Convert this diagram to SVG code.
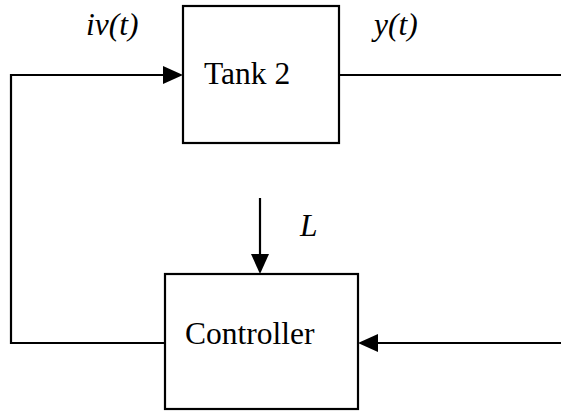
<svg xmlns="http://www.w3.org/2000/svg" width="561" height="412" viewBox="0 0 561 412">
<style>
.box{fill:#fff;stroke:#000;stroke-width:2.2}
.ln{fill:none;stroke:#000;stroke-width:2.2}
.ah{fill:#000;stroke:none}
.t{font-family:'Liberation Serif','Times New Roman',serif;font-size:31.5px;fill:#000}
.i{font-style:italic}
</style>
<rect width="561" height="412" fill="#fff"/>
<g id="connectors">
<polyline class="ln" points="165,343 11,343 11,75 165,75"/>
<polygon class="ah" points="183,75 163,66 163,84"/>
<line class="ln" x1="339" y1="75" x2="561" y2="75"/>
<line class="ln" x1="561" y1="343" x2="376" y2="343"/>
<polygon class="ah" points="358,343 378,334 378,352"/>
<line class="ln" x1="260" y1="198" x2="260" y2="256"/>
<polygon class="ah" points="260,274 251,254 269,254"/>
</g>
<g id="labels">
<text class="t i" x="86" y="35">iv(t)</text>
<text class="t i" x="374" y="35">y(t)</text>
<text class="t i" x="300" y="236">L</text>
</g>
<g id="tank2">
<rect class="box" x="183" y="6" width="156" height="137"/>
<text class="t" x="204" y="84">Tank 2</text>
</g>
<g id="controller">
<rect class="box" x="165" y="274" width="193" height="135"/>
<text class="t" x="185" y="344">Controller</text>
</g>
</svg>
